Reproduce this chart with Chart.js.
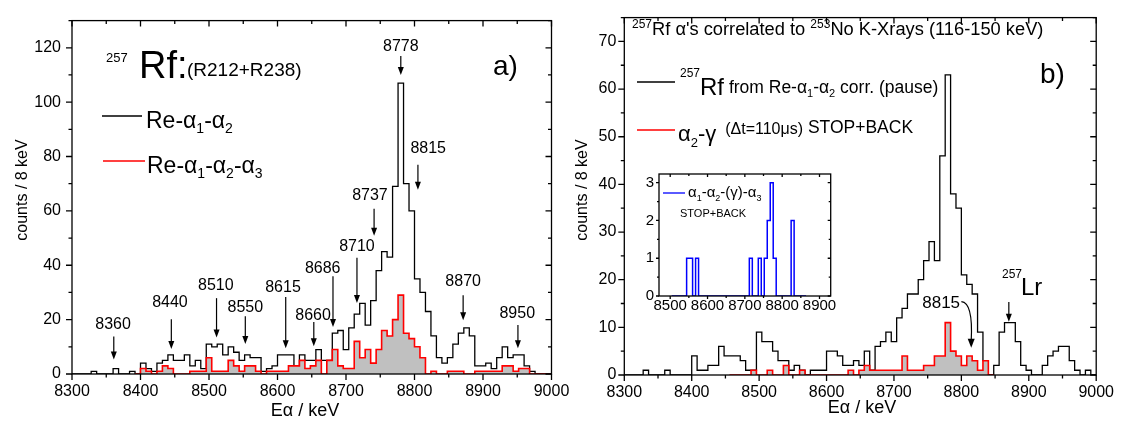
<!DOCTYPE html>
<html>
<head>
<meta charset="utf-8">
<script src="https://cdn.jsdelivr.net/npm/chart.js@4.4.1/dist/chart.umd.min.js"></script>
<style>
html, body { margin: 0; padding: 0; background: #fff; }
#wrap { position: relative; width: 1122px; height: 436px; }
#wrap canvas { position: absolute; left: 0; top: 0; }
</style>
</head>
<body>
<div id="wrap">
<canvas id="chartA" width="1122" height="436"></canvas>
<canvas id="chartB" width="1122" height="436"></canvas>
<canvas id="chartInset" width="1122" height="436"></canvas>
</div>
<script>
// histogram bins are 8 keV wide, each array starts at the given left bin edge
const BIN = 8;

// a) 257Rf, Re-a1-a2 (black) and Re-a1-a2-a3 (red, grey filled)
const aBlackStart = 8296;
const aBlack = [
  0, 0, 0, 0, 1, 0, 0, 0, 2, 0,
  0, 1, 0, 4, 2, 1, 4, 5, 7, 5,
  5, 7, 3, 5, 2, 11, 10, 11, 7, 10,
  8, 5, 7, 6, 6, 1, 2, 3, 7, 7,
  7, 3, 7, 5, 5, 9, 5, 5, 15, 16,
  9, 17, 22, 26, 18, 27, 38, 45, 43, 69,
  107, 70, 60, 35, 30, 23, 14, 6, 4, 6,
  11, 15, 17, 14, 3, 3, 4, 2, 6, 10,
  6, 7, 7, 3, 1, 0, 0, 0
];
const aRedStart = 8392;
const aRed = [
  0, 2, 1, 0, 1, 3, 2, 0, 0, 0,
  1, 1, 1, 6, 1, 1, 1, 5, 3, 1,
  3, 3, 1, 0, 1, 1, 1, 1, 3, 3,
  5, 2, 3, 5, 0, 5, 9, 3, 2, 2,
  12, 6, 9, 4, 9, 16, 14, 20, 29, 15,
  13, 10, 6, 0, 1, 0, 0, 1, 1, 1,
  0, 0, 1, 1, 1, 1, 1, 3, 3, 1,
  2, 2, 0, 0, 0, 0
];

// b) 257Rf correlated to 253No K x-rays (black) and a2-gamma (red)
const bBlackStart = 8296;
const bBlack = [
  0, 0, 0, 0, 1, 0, 0, 0, 1, 0,
  0, 0, 0, 4, 1, 1, 2, 2, 6, 4,
  4, 4, 3, 1, 1, 9, 7, 7, 5, 3,
  3, 1, 2, 1, 0, 1, 1, 1, 5, 5,
  4, 2, 2, 3, 2, 5, 1, 6, 7, 9,
  7, 12, 14, 17, 17, 20, 24, 28, 24, 46,
  63, 38, 35, 21, 19, 17, 9, 3, 0, 2,
  9, 11, 11, 7, 2, 1, 0, 0, 2, 4,
  5, 6, 6, 3, 1, 0, 1, 0
];
const bRedStart = 8456;
const bRed = [
  0, 0, 0, 0, 1, 0, 0, 1, 0, 0,
  2, 0, 0, 1, 0, 0, 0, 0, 0, 0,
  0, 0, 1, 0, 1, 2, 1, 1, 1, 1,
  1, 1, 4, 1, 1, 1, 2, 2, 4, 4,
  11, 5, 4, 2, 4, 3, 1, 3, 0
];

// inset: a1-a2-(gamma)-a3, STOP+BACK
const insetStart = 8504;
const insetBlue = [
  0, 0, 0, 0, 0, 1, 1, 0, 1, 0,
  0, 0, 0, 0, 0, 0, 0, 0, 0, 0,
  0, 0, 0, 0, 0, 0, 1, 0, 0, 1,
  0, 1, 2, 3, 1, 0, 0, 0, 0, 0,
  2, 0, 0, 0, 0
];

// tick labels
const mainXTicks = [8300, 8400, 8500, 8600, 8700, 8800, 8900, 9000];
const aYTicks = [0, 20, 40, 60, 80, 100, 120];
const bYTicks = [0, 10, 20, 30, 40, 50, 60, 70];
const insetXTicks = [8500, 8600, 8700, 8800, 8900];
const insetYTicks = [0, 1, 2, 3];

// peak labels of panel a): text, arrow energy, arrow tail / tip (counts), text position
const aPeakNames = ['8360', '8440', '8510', '8550', '8615', '8660', '8686', '8710', '8737', '8778', '8815', '8870', '8950'];
const aPeakArrowE = [8361, 8445, 8511, 8553, 8612, 8653, 8681, 8716, 8741, 8780, 8805, 8871, 8951];
const aPeakTail = [13.8, 20.1, 27.9, 21.2, 28.3, 19.1, 36, 42.8, 60.8, 117, 77, 29, 18];
const aPeakTip = [5.3, 9.2, 13.4, 11.0, 9.5, 10.2, 17.3, 26.1, 50.9, 110, 67.8, 19.8, 9.5];
const aPeakTextE = [8360, 8443, 8510, 8553, 8608, 8652, 8666, 8716, 8735, 8780, 8820, 8871, 8950];
const aPeakTextC = [18.0, 26.1, 32.5, 24.4, 31.8, 21.6, 38.9, 47, 65.7, 120.5, 83, 33.9, 22.3];

const FAMILY = "'Liberation Sans', Arial, sans-serif";
function font(size) { return size + 'px ' + FAMILY; }

function histPoints(start, counts) {
  const pts = counts.map((c, i) => ({x: start + i * BIN, y: c}));
  pts.push({x: start + counts.length * BIN, y: 0});
  return pts;
}

// draw a run of text pieces: [text, size, dy]
function rich(ctx, x, y, parts) {
  let cx = x;
  ctx.textAlign = 'left';
  ctx.textBaseline = 'alphabetic';
  for (const [t, s, dy] of parts) {
    ctx.font = font(s);
    ctx.fillText(t, cx, y + (dy || 0));
    cx += ctx.measureText(t).width;
  }
  return cx;
}

function hline(ctx, x0, x1, y, color) {
  ctx.save();
  ctx.strokeStyle = color;
  ctx.lineWidth = 1.3;
  ctx.beginPath();
  ctx.moveTo(x0, y);
  ctx.lineTo(x1, y);
  ctx.stroke();
  ctx.restore();
}

function arrowDown(ctx, x, y0, y1) {
  ctx.beginPath();
  ctx.moveTo(x, y0);
  ctx.lineTo(x, y1 - 6);
  ctx.stroke();
  ctx.beginPath();
  ctx.moveTo(x - 3, y1 - 8);
  ctx.lineTo(x + 3, y1 - 8);
  ctx.lineTo(x, y1);
  ctx.closePath();
  ctx.fill();
}

function frame(chart, xMinor, xMajor, yMinor, yMajor, major, minor) {
  const {ctx, chartArea: a, scales: {x, y}} = chart;
  ctx.save();
  ctx.strokeStyle = '#000';
  ctx.lineWidth = 1.3;
  ctx.strokeRect(a.left, a.top, a.right - a.left, a.bottom - a.top);
  ctx.beginPath();
  for (let v = Math.ceil(x.min / xMinor) * xMinor; v <= x.max + 1e-6; v += xMinor) {
    const p = x.getPixelForValue(v);
    const L = Math.abs(v / xMajor - Math.round(v / xMajor)) < 1e-6 ? major : minor;
    ctx.moveTo(p, a.bottom); ctx.lineTo(p, a.bottom + L);
    ctx.moveTo(p, a.top); ctx.lineTo(p, a.top + L);
  }
  for (let v = Math.ceil(y.min / yMinor) * yMinor; v <= y.max + 1e-6; v += yMinor) {
    const p = y.getPixelForValue(v);
    const L = Math.abs(v / yMajor - Math.round(v / yMajor)) < 1e-6 ? major : minor;
    ctx.moveTo(a.left, p); ctx.lineTo(a.left - L, p);
    ctx.moveTo(a.right, p); ctx.lineTo(a.right - L, p);
  }
  ctx.stroke();
  ctx.restore();
}

function axisTitles(ctx, xText, xx, xy, yText, yx, yy) {
  ctx.save();
  ctx.fillStyle = '#000';
  ctx.textAlign = 'center';
  ctx.textBaseline = 'middle';
  ctx.font = font(18);
  ctx.fillText(xText, xx, xy);
  ctx.translate(yx, yy);
  ctx.rotate(-Math.PI / 2);
  ctx.font = font(16);
  ctx.fillText(yText, 0, 0);
  ctx.restore();
}

function decorA(chart) {
  frame(chart, 50, 100, 10, 20, 6, 3.5);
  const {ctx, scales: {x, y}} = chart;
  ctx.save();
  ctx.fillStyle = '#000';
  ctx.strokeStyle = '#000';
  ctx.lineWidth = 1.2;
  aPeakNames.forEach((n, i) => {
    ctx.font = font(16);
    ctx.textAlign = 'center';
    ctx.textBaseline = 'middle';
    ctx.fillText(n, x.getPixelForValue(aPeakTextE[i]), y.getPixelForValue(aPeakTextC[i]));
    arrowDown(ctx, x.getPixelForValue(aPeakArrowE[i]), y.getPixelForValue(aPeakTail[i]), y.getPixelForValue(aPeakTip[i]));
  });
  rich(ctx, 106, 62, [['257', 13]]);
  rich(ctx, 139, 78, [['Rf:', 38]]);
  rich(ctx, 187, 76, [['(R212+R238)', 19]]);
  hline(ctx, 102, 142, 116, '#000');
  rich(ctx, 146, 128, [['Re-α', 23], ['1', 14, 5], ['-α', 23], ['2', 14, 5]]);
  hline(ctx, 103, 145, 161, '#ff0000');
  rich(ctx, 147, 173, [['Re-α', 23], ['1', 14, 5], ['-α', 23], ['2', 14, 5], ['-α', 23], ['3', 14, 5]]);
  rich(ctx, 493, 75, [['a)', 28]]);
  axisTitles(ctx, 'Eα / keV', 305, 411, 'counts / 8 keV', 23, 190);
  ctx.restore();
}

function decorB(chart) {
  frame(chart, 50, 100, 5, 10, 6, 3.5);
  const {ctx, scales: {x, y}} = chart;
  ctx.save();
  ctx.fillStyle = '#000';
  ctx.strokeStyle = '#000';
  ctx.lineWidth = 1.2;
  rich(ctx, 632, 35, [['257', 12, -7], ['Rf ', 18.3], ['α', 18.3], ["'s correlated to ", 18.3], ['253', 12, -7], ['No K-Xrays (116-150 keV)', 18.3]]);
  hline(ctx, 637, 675, 82, '#000');
  rich(ctx, 680, 95, [['257', 12, -18], ['Rf', 24], [' from Re-α', 17.5, -2], ['1', 11, 2], ['-α', 17.5, -2], ['2', 11, 2], [' corr. (pause)', 17.5, -2]]);
  hline(ctx, 637, 675, 130, '#ff0000');
  rich(ctx, 678, 141, [['α', 22], ['2', 13, 6], ['-γ', 22], ['  (Δt=110μs)', 16, -7], [' STOP+BACK', 17.5, -8]]);
  rich(ctx, 1040, 83, [['b)', 28]]);

  // 8815 with curved arrow
  ctx.font = font(17);
  ctx.textAlign = 'center';
  ctx.textBaseline = 'middle';
  ctx.fillText('8815', x.getPixelForValue(8770), y.getPixelForValue(15));
  const sx = x.getPixelForValue(8800), sy = y.getPixelForValue(15.4);
  const tx = x.getPixelForValue(8814.6), ty = y.getPixelForValue(5.7);
  ctx.beginPath();
  ctx.moveTo(sx, sy);
  ctx.quadraticCurveTo(tx + 2, sy + 1, tx, ty - 7);
  ctx.stroke();
  ctx.beginPath();
  ctx.moveTo(tx - 3.5, ty - 9);
  ctx.lineTo(tx + 3.5, ty - 9);
  ctx.lineTo(tx, ty);
  ctx.closePath();
  ctx.fill();

  // 257Lr
  rich(ctx, 1002, 278, [['257', 12]]);
  rich(ctx, 1021, 295, [['Lr', 24]]);
  arrowDown(ctx, x.getPixelForValue(8870.4), y.getPixelForValue(15.3), y.getPixelForValue(11.2));

  axisTitles(ctx, 'Eα / keV', 862, 408, 'counts / 8 keV', 583, 190);
  ctx.restore();
}

function decorInset(chart) {
  frame(chart, 50, 100, 0.5, 1, 3, 2);
  const {ctx} = chart;
  ctx.save();
  ctx.fillStyle = '#000';
  hline(ctx, 663, 685, 193, '#0000ff');
  rich(ctx, 688, 197, [['α', 15], ['1', 9, 4], ['-α', 15], ['2', 9, 4], ['-(γ)-α', 15], ['3', 9, 4]]);
  rich(ctx, 680, 217, [['STOP+BACK', 11]]);
  ctx.restore();
}

function makeOptions(c) {
  const tickFont = {family: FAMILY, size: c.tickSize};
  return {
    responsive: false,
    animation: false,
    events: [],
    layout: {padding: {left: c.left, right: c.right, top: c.top, bottom: c.bottom}},
    plugins: {legend: {display: false}, tooltip: {enabled: false}},
    elements: {point: {radius: 0}, line: {tension: 0, borderJoinStyle: 'miter'}},
    scales: {
      x: {
        type: 'linear', min: c.xMin, max: c.xMax,
        afterFit: s => { s.height = c.xHeight; },
        afterBuildTicks: s => { s.ticks = c.xTicks.map(v => ({value: v})); },
        grid: {display: false, drawTicks: false},
        border: {display: false},
        ticks: {font: tickFont, color: '#000', padding: c.xPad, maxRotation: 0, autoSkip: false, callback: v => String(v)}
      },
      y: {
        type: 'linear', min: c.yMin, max: c.yMax,
        afterFit: s => { s.width = c.yWidth; },
        afterBuildTicks: s => { s.ticks = c.yTicks.map(v => ({value: v})); },
        grid: {display: false, drawTicks: false},
        border: {display: false},
        ticks: {font: tickFont, color: '#000', padding: c.yPad, autoSkip: false, callback: v => String(v)}
      }
    }
  };
}

function histSet(start, counts, color, width, fillColor) {
  return {
    data: histPoints(start, counts),
    borderColor: color,
    borderWidth: width,
    stepped: true,
    pointRadius: 0,
    fill: fillColor ? 'origin' : false,
    backgroundColor: fillColor || 'transparent'
  };
}

new Chart(document.getElementById('chartA'), {
  type: 'line',
  data: {
    datasets: [
      histSet(aRedStart, aRed, '#ff0000', 1.6, '#c0c0c0'),
      histSet(aBlackStart, aBlack, '#000000', 1.3)
    ]
  },
  options: makeOptions({
    left: 0, right: 570.5, top: 6, bottom: 0, xHeight: 62, yWidth: 72,
    xMin: 8300, xMax: 9000, yMin: 0, yMax: 130, xTicks: mainXTicks, yTicks: aYTicks,
    tickSize: 16, xPad: 8, yPad: 11
  }),
  plugins: [{id: 'decorA', afterDraw: decorA}]
});

new Chart(document.getElementById('chartB'), {
  type: 'line',
  data: {
    datasets: [
      histSet(bRedStart, bRed, '#ff0000', 1.6, '#c0c0c0'),
      histSet(bBlackStart, bBlack, '#000000', 1.3)
    ]
  },
  options: makeOptions({
    left: 565, right: 20.5, top: 8.3, bottom: 0, xHeight: 61, yWidth: 59.3,
    xMin: 8300, xMax: 9000, yMin: 0, yMax: 75, xTicks: mainXTicks, yTicks: bYTicks,
    tickSize: 16, xPad: 8, yPad: 8
  }),
  plugins: [{id: 'decorB', afterDraw: decorB}]
});

new Chart(document.getElementById('chartInset'), {
  type: 'line',
  data: {
    datasets: [histSet(insetStart, insetBlue, '#0000ff', 1.5)]
  },
  options: makeOptions({
    left: 639, right: 291.3, top: 174, bottom: 120, xHeight: 20, yWidth: 20,
    xMin: 8470, xMax: 8930, yMin: 0, yMax: 3.23, xTicks: insetXTicks, yTicks: insetYTicks,
    tickSize: 15, xPad: 1, yPad: 5
  }),
  plugins: [{id: 'decorInset', afterDraw: decorInset}]
});
</script>
</body>
</html>
